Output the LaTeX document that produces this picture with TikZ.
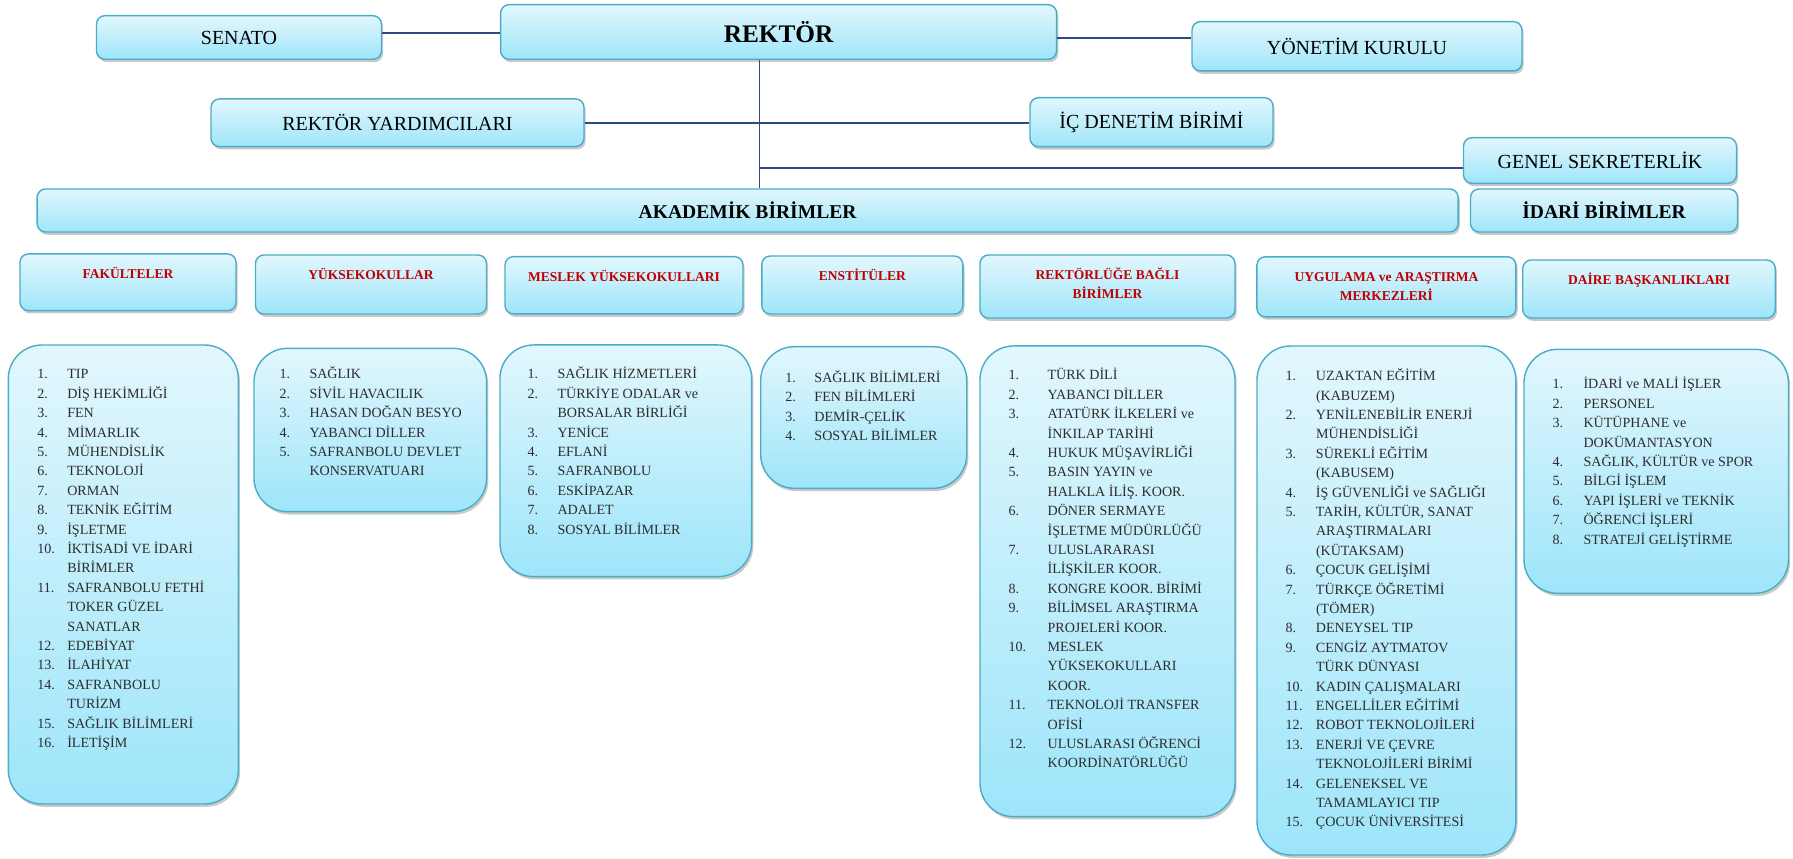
\documentclass[tikz,border=0pt]{standalone}
\usepackage{fontspec}
\setmainfont{Liberation Serif}
\usetikzlibrary{shadows}

\definecolor{boxtop}{RGB}{226,247,253}
\definecolor{boxbot}{RGB}{158,229,250}
\definecolor{boxline}{RGB}{75,172,198}
\definecolor{linkline}{RGB}{45,75,125}
\definecolor{hdred}{RGB}{192,0,0}
\definecolor{listtext}{RGB}{45,45,45}

% numbered list: #1 width of the number column
\newcommand{\birimlist}[2]{\begin{tabular}[t]{@{}p{#1}@{}l@{}}#2\end{tabular}}

\tikzset{
    birim/.style={draw=boxline, line width=1pt, top color=boxtop, bottom color=boxbot,
        rounded corners=6pt, inner sep=0pt,
        drop shadow={shadow xshift=1.2pt, shadow yshift=-2pt, opacity=0.35, fill=black!60}},
    liste/.style={birim, rounded corners=24pt},
    boxsize/.style 2 args={minimum width=#1*0.025cm, minimum height=#2*0.025cm},
    ust/.style={font=\fontsize{14.2}{17}\selectfont},
    baslik/.style={anchor=base, inner sep=0pt, text=hdred, font=\bfseries\fontsize{9.6}{13.8}\selectfont},
    madde/.style={anchor=base west, inner sep=0pt, text=listtext, font=\fontsize{10}{13.8}\selectfont},
    link/.style={draw=linkline, line width=1.4pt},
}

\begin{document}
\begin{tikzpicture}[x=0.025cm, y=-0.025cm]
    \useasboundingbox (0,0) rectangle (1793,859);

    % top of the chart
    \node[birim, ust, boxsize={285}{43.6}] (SENATO) at (239,37.5) {SENATO};
    \node[birim, boxsize={556}{54.6}, font=\bfseries\fontsize{18}{20}\selectfont] (REKTOR) at (778.6,32) {REKTÖR};
    \node[birim, ust, boxsize={330}{49.3}] (YONETIM) at (1357,46.3) {YÖNETİM KURULU};
    \node[birim, ust, boxsize={373}{47.7}] (YARDIMCI) at (397.5,122.8) {REKTÖR YARDIMCILARI};
    \node[birim, ust, boxsize={243}{49}] (DENETIM) at (1151.5,122.2) {İÇ DENETİM BİRİMİ};
    \node[birim, ust, boxsize={273}{45.6}] (GENSEK) at (1600,160.5) {GENEL SEKRETERLİK};
    \node[birim, boxsize={1421}{43}, font=\bfseries\fontsize{13.9}{16}\selectfont] (AKADEMIK) at (747.6,210.5) {AKADEMİK BİRİMLER};
    \node[birim, boxsize={267}{43}, font=\bfseries\fontsize{13.9}{16}\selectfont] (IDARI) at (1604,210.5) {İDARİ BİRİMLER};

    % connectors
    \coordinate (spine) at ([xshift=-13.6pt]REKTOR.south);
    \coordinate (sn) at ([yshift=3pt]SENATO.east);
    \coordinate (yk) at ([yshift=5.7pt]YONETIM.west);
    \coordinate (gs) at ([yshift=-5.3pt]GENSEK.west);
    \draw[link] (sn) -- (sn -| REKTOR.west);
    \draw[link] (yk -| REKTOR.east) -- (yk);
    \draw[link] (YARDIMCI.east) -- (YARDIMCI.east -| DENETIM.west);
    \draw[link] (spine) -- (spine |- AKADEMIK.north);
    \draw[link] (spine |- gs) -- (gs);

    % headers
    \node[birim, boxsize={216}{56.7}] (FAKH) at (128,282.3) {};
    \node[birim, boxsize={231}{59}] (YUKH) at (371,284.5) {};
    \node[birim, boxsize={238}{57.3}] (MYOH) at (624,285.3) {};
    \node[birim, boxsize={201}{58}] (ENSH) at (862.3,285) {};
    \node[birim, boxsize={255}{63}] (REKH) at (1107.5,286.5) {};
    \node[birim, boxsize={259}{60}] (UYGH) at (1386.4,286.8) {};
    \node[birim, boxsize={252.5}{58}] (DAIH) at (1649,289) {};

    \node[baslik] (FAKT) at ([shift={(0,25.2)}]FAKH.north) {FAKÜLTELER};
    \node[baslik] (YUKT) at ([shift={(0,25.2)}]YUKH.north) {YÜKSEKOKULLAR};
    \node[baslik] (MYOT) at ([shift={(0,25.2)}]MYOH.north) {MESLEK YÜKSEKOKULLARI};
    \node[baslik] (ENST) at ([shift={(0,25.2)}]ENSH.north) {ENSTİTÜLER};
    \node[baslik] (REKT) at ([shift={(0,25.2)}]REKH.north)
        {\begin{tabular}[t]{@{}c@{}}REKTÖRLÜĞE BAĞLI\\BİRİMLER\end{tabular}};
    \node[baslik] (UYGT) at ([shift={(0,25.2)}]UYGH.north)
        {\begin{tabular}[t]{@{}c@{}}UYGULAMA ve ARAŞTIRMA\\MERKEZLERİ\end{tabular}};
    \node[baslik] (DAIT) at ([shift={(0,25.2)}]DAIH.north) {DAİRE BAŞKANLIKLARI};

    % lists
    \node[liste, boxsize={230}{459}] (FAKB) at (123.3,574.5) {};
    \node[liste, boxsize={232.7}{163.4}] (YUKB) at (370.3,430) {};
    \node[liste, boxsize={251.7}{231.7}] (MYOB) at (625.8,460.8) {};
    \node[liste, boxsize={206}{141.6}] (ENSB) at (863.7,417.5) {};
    \node[liste, boxsize={255}{470.7}] (REKB) at (1107.5,581.3) {};
    \node[liste, boxsize={258.8}{509}] (UYGB) at (1386.4,600.5) {};
    \node[liste, boxsize={264.5}{244}] (DAIB) at (1656.2,471.3) {};

    \node[madde] (FAKL) at ([shift={(29.4,34.6)}]FAKB.north west) {\birimlist{0.75cm}{
        1. & TIP\\ 2. & DİŞ HEKİMLİĞİ\\ 3. & FEN\\ 4. & MİMARLIK\\ 5. & MÜHENDİSLİK\\
        6. & TEKNOLOJİ\\ 7. & ORMAN\\ 8. & TEKNİK EĞİTİM\\ 9. & İŞLETME\\
        10. & İKTİSADİ VE İDARİ\\ & BİRİMLER\\
        11. & SAFRANBOLU FETHİ\\ & TOKER GÜZEL\\ & SANATLAR\\
        12. & EDEBİYAT\\ 13. & İLAHİYAT\\ 14. & SAFRANBOLU\\ & TURİZM\\
        15. & SAĞLIK BİLİMLERİ\\ 16. & İLETİŞİM}};
    \node[madde] (YUKL) at ([shift={(26,31.3)}]YUKB.north west) {\birimlist{0.75cm}{
        1. & SAĞLIK\\ 2. & SİVİL HAVACILIK\\ 3. & HASAN DOĞAN BESYO\\ 4. & YABANCI DİLLER\\
        5. & SAFRANBOLU DEVLET\\ & KONSERVATUARI}};
    \node[madde] (MYOL) at ([shift={(28,34.6)}]MYOB.north west) {\birimlist{0.75cm}{
        1. & SAĞLIK HİZMETLERİ\\ 2. & TÜRKİYE ODALAR ve\\ & BORSALAR BİRLİĞİ\\
        3. & YENİCE\\ 4. & EFLANİ\\ 5. & SAFRANBOLU\\ 6. & ESKİPAZAR\\ 7. & ADALET\\
        8. & SOSYAL BİLİMLER}};
    \node[madde] (ENSL) at ([shift={(25,36.2)}]ENSB.north west) {\birimlist{0.73cm}{
        1. & SAĞLIK BİLİMLERİ\\ 2. & FEN BİLİMLERİ\\ 3. & DEMİR-ÇELİK\\ 4. & SOSYAL BİLİMLER}};
    \node[madde] (REKL) at ([shift={(29,34.6)}]REKB.north west) {\birimlist{0.975cm}{
        1. & TÜRK DİLİ\\ 2. & YABANCI DİLLER\\ 3. & ATATÜRK İLKELERİ ve\\ & İNKILAP TARİHİ\\
        4. & HUKUK MÜŞAVİRLİĞİ\\ 5. & BASIN YAYIN ve\\ & HALKLA İLİŞ. KOOR.\\
        6. & DÖNER SERMAYE\\ & İŞLETME MÜDÜRLÜĞÜ\\ 7. & ULUSLARARASI\\ & İLİŞKİLER KOOR.\\
        8. & KONGRE KOOR. BİRİMİ\\ 9. & BİLİMSEL ARAŞTIRMA\\ & PROJELERİ KOOR.\\
        10. & MESLEK\\ & YÜKSEKOKULLARI\\ & KOOR.\\ 11. & TEKNOLOJİ TRANSFER\\ & OFİSİ\\
        12. & ULUSLARASI ÖĞRENCİ\\ & KOORDİNATÖRLÜĞÜ}};
    \node[madde] (UYGL) at ([shift={(29,35.3)}]UYGB.north west) {\birimlist{0.76cm}{
        1. & UZAKTAN EĞİTİM\\ & (KABUZEM)\\ 2. & YENİLENEBİLİR ENERJİ\\ & MÜHENDİSLİĞİ\\
        3. & SÜREKLİ EĞİTİM\\ & (KABUSEM)\\ 4. & İŞ GÜVENLİĞİ ve SAĞLIĞI\\
        5. & TARİH, KÜLTÜR, SANAT\\ & ARAŞTIRMALARI\\ & (KÜTAKSAM)\\ 6. & ÇOCUK GELİŞİMİ\\
        7. & TÜRKÇE ÖĞRETİMİ\\ & (TÖMER)\\ 8. & DENEYSEL TIP\\ 9. & CENGİZ AYTMATOV\\
        & TÜRK DÜNYASI\\ 10. & KADIN ÇALIŞMALARI\\ 11. & ENGELLİLER EĞİTİMİ\\
        12. & ROBOT TEKNOLOJİLERİ\\ 13. & ENERJİ VE ÇEVRE\\ & TEKNOLOJİLERİ BİRİMİ\\
        14. & GELENEKSEL VE\\ & TAMAMLAYICI TIP\\ 15. & ÇOCUK ÜNİVERSİTESİ}};
    \node[madde] (DAIL) at ([shift={(29,40.3)}]DAIB.north west) {\birimlist{0.775cm}{
        1. & İDARİ ve MALİ İŞLER\\ 2. & PERSONEL\\ 3. & KÜTÜPHANE ve\\ & DOKÜMANTASYON\\
        4. & SAĞLIK, KÜLTÜR ve SPOR\\ 5. & BİLGİ İŞLEM\\ 6. & YAPI İŞLERİ ve TEKNİK\\
        7. & ÖĞRENCİ İŞLERİ\\ 8. & STRATEJİ GELİŞTİRME}};
\end{tikzpicture}
\end{document}
